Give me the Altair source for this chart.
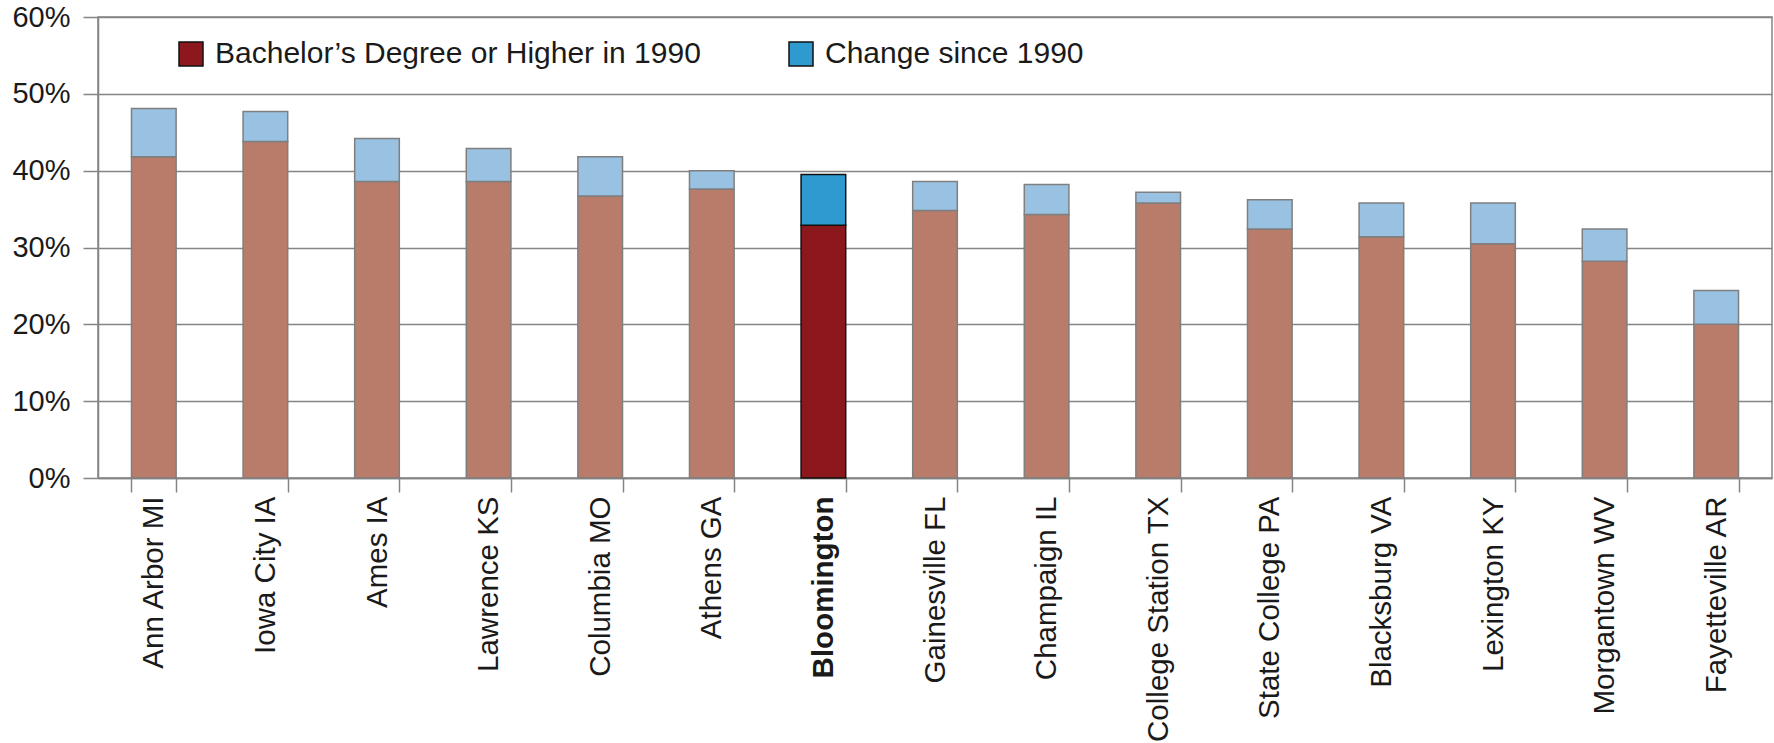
import altair as alt
import pandas as pd

# Share of adults with a bachelor's degree or higher, by college town (%)
cities = [
    "Ann Arbor MI", "Iowa City IA", "Ames IA", "Lawrence KS", "Columbia MO",
    "Athens GA", "Bloomington", "Gainesville FL", "Champaign IL",
    "College Station TX", "State College PA", "Blacksburg VA", "Lexington KY",
    "Morgantown WV", "Fayetteville AR",
]
level_1990 = [41.8, 43.8, 38.6, 38.6, 36.7, 37.6, 32.9, 34.8, 34.3, 35.8, 32.4, 31.4, 30.5, 28.2, 20.0]
level_now = [48.1, 47.7, 44.2, 42.9, 41.8, 40.0, 39.5, 38.6, 38.2, 37.2, 36.2, 35.8, 35.8, 32.4, 24.4]

series = ["Bachelor’s Degree or Higher in 1990", "Change since 1990"]
highlight_city = "Bloomington"

FONT = "Liberation Sans"
GRID = "#858585"

rows = []
for c, b, t in zip(cities, level_1990, level_now):
    hl = c == highlight_city
    rows.append({"city": c, "series": series[0], "lo": 0.0, "hi": b, "hl": hl})
    rows.append({"city": c, "series": series[1], "lo": b, "hi": t, "hl": hl})
df = pd.DataFrame(rows)

x_enc = alt.X(
    "city:N",
    sort=cities,
    scale=alt.Scale(domain=cities, paddingInner=0.6, paddingOuter=0.3),
    axis=alt.Axis(
        title=None,
        labelAngle=270,
        labelFont=FONT,
        labelFontSize=29.5,
        labelColor="#1a1a1a",
        labelFontWeight=alt.expr("datum.value == 'Bloomington' ? 'bold' : 'normal'"),
        labelLimit=400,
        labelPadding=4,
        tickBand="extent",
        tickSize=14,
        tickColor=GRID,
        tickWidth=1.5,
        domainColor=GRID,
        domainWidth=1.5,
        grid=False,
    ),
)
y_enc = alt.Y(
    "lo:Q",
    scale=alt.Scale(domain=[0, 60], nice=False),
    axis=alt.Axis(
        title=None,
        values=[0, 10, 20, 30, 40, 50, 60],
        labelExpr="datum.value + '%'",
        labelFont=FONT,
        labelFontSize=29,
        labelColor="#1a1a1a",
        labelPadding=13,
        tickSize=15,
        tickColor=GRID,
        tickWidth=1.5,
        domainColor=GRID,
        domainWidth=1.5,
        gridColor=GRID,
        gridWidth=1.5,
    ),
)

base = alt.Chart(df).encode(x=x_enc, y=y_enc, y2="hi:Q")

others = base.transform_filter("!datum.hl").mark_bar(
    stroke="#7f7f7f", strokeWidth=1.5
).encode(
    color=alt.Color(
        "series:N",
        scale=alt.Scale(domain=series, range=["#B97B6A", "#99C2E2"]),
        legend=None,
    )
)

focus = base.transform_filter("datum.hl").mark_bar(
    stroke="#111111", strokeWidth=1.5
).encode(
    color=alt.Color(
        "series:N",
        scale=alt.Scale(domain=series, range=["#8C181E", "#2E9AD0"]),
        legend=alt.Legend(
            title=None,
            orient="none",
            legendX=78,
            legendY=22,
            direction="horizontal",
            symbolType="square",
            symbolSize=576,
            symbolStrokeColor="#111111",
            symbolStrokeWidth=1.5,
            labelFont=FONT,
            labelFontSize=30,
            labelColor="#1a1a1a",
            labelOffset=9,
            labelLimit=700,
            columnPadding=85,
            padding=0,
        ),
    )
)

chart = (
    alt.layer(others, focus)
    .resolve_scale(color="independent")
    .properties(
        width=1674,
        height=461,
        autosize=alt.AutoSizeParams(type="none"),
        padding={"left": 98, "top": 17, "right": 2, "bottom": 265},
        background="white",
    )
    .configure_view(stroke=GRID, strokeWidth=1.5)
)

chart.save("out.html", embed_options={"renderer": "svg", "actions": False})
